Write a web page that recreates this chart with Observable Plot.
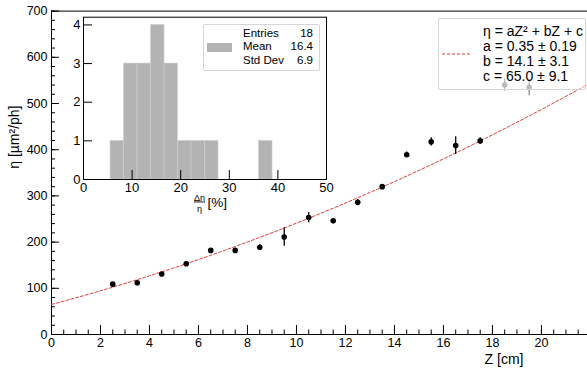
<!DOCTYPE html>
<html><head><meta charset="utf-8">
<script src="https://cdn.jsdelivr.net/npm/d3@7"></script>
<script src="https://cdn.jsdelivr.net/npm/@observablehq/plot@0.6"></script>
<style>
body{margin:0;background:#fff;overflow:hidden}
#wrap{position:relative;width:587px;height:371px;overflow:hidden;font-family:"Liberation Sans",Arial,Helvetica,sans-serif;color:#000}
#wrap svg{position:absolute;left:0;top:0;background:transparent}
.legend{position:absolute;box-sizing:border-box;border:1px solid #d6d6d6;border-radius:2px}
.legend div{position:absolute;white-space:nowrap}
</style></head><body><div id="wrap"></div>
<script>
// ---- main graph data ----
const zCenters = [2.5,3.5,4.5,5.5,6.5,7.5,8.5,9.5,10.5,11.5,12.5,13.5,14.5,15.5,16.5,17.5,18.5,19.5];
const etaValues = [109,112,131,153,182,182,189,211,253,246,286,320,389,417,409,419,540,535];
const etaErrors = [3,3,3,3,3,3,5,20,11,3,6,4,6,9,19,7,13,18];
const fitA = 0.35, fitB = 14.1, fitC = 65.0;
const xMajorTicks = [0,2,4,6,8,10,12,14,16,18,20];
const yMajorTicks = [0,100,200,300,400,500,600,700];
// ---- inset histogram data ----
const histEdgesLow  = [0,2.78,5.56,8.33,11.11,13.89,16.67,19.44,22.22,25,27.78,30.56,33.33,36.11,38.89,41.67,44.44,47.22];
const histEdgesHigh = [2.78,5.56,8.33,11.11,13.89,16.67,19.44,22.22,25,27.78,30.56,33.33,36.11,38.89,41.67,44.44,47.22,50];
const histCounts    = [0,0,1,3,3,4,3,1,1,1,0,0,0,1,0,0,0,0];
const insetXTicks = [0,10,20,30,40,50];
const insetYTicks = [0,1,2,3,4];
const statsLabels = ["Entries","Mean","Std Dev"];
const statsValues = ["18","16.4","6.9"];
const fitLines = ["η = aZ² + bZ + c","a = 0.35 ± 0.19","b = 14.1 ± 3.1","c = 65.0 ± 9.1"];

const FONT = '"Liberation Sans", Arial, Helvetica, sans-serif';
const points = zCenters.map((z,i)=>({z, eta: etaValues[i], err: etaErrors[i], grey: i>=16}));
const fitCurve = d3.range(0, 22.0001, 0.1).map(z=>({z, eta: fitA*z*z + fitB*z + fitC}));
const xMinor = d3.range(0, 22.0001, 0.5);
const yMinor = d3.range(0, 700.0001, 20);

const W=587, H=371, mL=51, mR=0, mT=10.6, mB=37;
const frameH = H - mT - mB;
const frameW = W - mL - mR;

const main = Plot.plot({
  width: W, height: H,
  marginLeft: mL, marginRight: mR, marginTop: mT, marginBottom: mB,
  style: {fontFamily: FONT, fontSize: "12.5px", background: "transparent", color: "#000"},
  x: {domain: [0, 21.88], ticks: xMajorTicks, tickSize: 0, tickPadding: 4, tickFormat: d=>String(d), label: null},
  y: {domain: [0, 700], ticks: yMajorTicks, tickSize: 0, tickPadding: 4, tickFormat: d=>String(d), label: null},
  marks: [
    Plot.tickX(xMinor, {x: d=>d, insetTop: frameH - 4.5, stroke: "#000"}),
    Plot.tickX(xMajorTicks, {x: d=>d, insetTop: frameH - 9, stroke: "#000"}),
    Plot.tickY(yMinor, {y: d=>d, insetRight: frameW - 4, stroke: "#000"}),
    Plot.tickY(yMajorTicks, {y: d=>d, insetRight: frameW - 8, stroke: "#000"}),
    Plot.ruleY([0], {stroke: "#000"}),
    Plot.ruleY([700], {stroke: "#000"}),
    Plot.ruleX([0], {stroke: "#000"}),
    Plot.line(fitCurve, {x: "z", y: "eta", stroke: "#e0393b", strokeWidth: 1, strokeDasharray: "3,2"}),
    Plot.ruleX(points.filter(d=>!d.grey), {x: "z", y1: d=>d.eta-d.err, y2: d=>d.eta+d.err, stroke: "#000", strokeWidth: 1.3}),
    Plot.dot(points.filter(d=>!d.grey), {x: "z", y: "eta", r: 2.8, fill: "#000", stroke: "none"}),
    Plot.ruleX(points.filter(d=>d.grey), {x: "z", y1: d=>d.eta-d.err, y2: d=>d.eta+d.err, stroke: "#8a8a8a", strokeWidth: 1.3}),
    Plot.dot(points.filter(d=>d.grey), {x: "z", y: "eta", r: 2.8, fill: "#8a8a8a", stroke: "none"}),
    Plot.text(["η [µm²/ph]"], {frameAnchor: "left", rotate: -90, dx: -37, dy: -4, fontSize: 14, fill: "#000"}),
    Plot.text(["Z [cm]"], {frameAnchor: "bottom-right", textAnchor: "end", dx: -64, dy: 29, fontSize: 14, fill: "#000"})
  ]
});

// inset
const iW=340, iH=222, iL=83, iR=14, iT=16.7, iB=43;
const iFrameH = iH - iT - iB, iFrameW = iW - iL - iR;
const bins = histCounts.map((c,i)=>({x1: histEdgesLow[i], x2: histEdgesHigh[i], c})).filter(d=>d.c>0);
const inset = Plot.plot({
  width: iW, height: iH,
  marginLeft: iL, marginRight: iR, marginTop: iT, marginBottom: iB,
  style: {fontFamily: FONT, fontSize: "13px", background: "transparent", color: "#000"},
  x: {domain: [0, 50], ticks: insetXTicks, tickSize: 0, tickPadding: 3, tickFormat: d=>String(d), label: null},
  y: {domain: [0, 4.2], ticks: insetYTicks, tickSize: 0, tickPadding: 3, tickFormat: d=>String(d), label: null},
  marks: [
    Plot.rectY(bins, {x1: "x1", x2: "x2", y: "c", fill: "#b3b3b3", stroke: "#cfcfcf", strokeWidth: 0.6}),
    Plot.tickX(insetXTicks, {x: d=>d, insetTop: iFrameH - 9, stroke: "#000"}),
    Plot.tickY(insetYTicks, {y: d=>d, insetRight: iFrameW - 9, stroke: "#000"}),
    Plot.frame({stroke: "#000"}),
    Plot.text(["Δη"], {frameAnchor: "bottom", dx: -5.5, dy: 21, fontSize: 9, fill: "#000"}),
    Plot.text(["η"], {frameAnchor: "bottom", dx: -5.5, dy: 32, fontSize: 9, fill: "#000"}),
    Plot.text(["[%]"], {frameAnchor: "bottom", textAnchor: "start", dx: 2.5, dy: 27, fontSize: 13.5, fill: "#000"})
  ]
});
d3.select(inset).selectAll("text").filter(function(){return this.textContent==="Δη";})
  .attr("text-decoration", "underline");

const wrap = document.getElementById("wrap");
wrap.appendChild(main);
wrap.appendChild(inset);

// stats box
const stats = document.createElement("div");
stats.className = "legend";
Object.assign(stats.style, {left:"203px", top:"24px", width:"117px", height:"47px", background:"#fff", fontSize:"11.5px"});
const sw = document.createElement("div");
Object.assign(sw.style, {left:"3px", top:"18px", width:"25px", height:"9px", background:"#b3b3b3"});
stats.appendChild(sw);
statsLabels.forEach((t,i)=>{
  const a = document.createElement("div");
  a.textContent = t;
  Object.assign(a.style, {left:"39px", top:(2+i*13.3)+"px", lineHeight:"13px"});
  stats.appendChild(a);
  const b = document.createElement("div");
  b.textContent = statsValues[i];
  Object.assign(b.style, {right:"6px", top:(2+i*13.3)+"px", lineHeight:"13px", textAlign:"right"});
  stats.appendChild(b);
});
wrap.appendChild(stats);

// fit legend
const fitLeg = document.createElement("div");
fitLeg.className = "legend";
Object.assign(fitLeg.style, {left:"438px", top:"18px", width:"148px", height:"72px", background:"rgba(255,255,255,0.4)", fontSize:"14px"});
const dashSvg = document.createElementNS("http://www.w3.org/2000/svg","svg");
dashSvg.setAttribute("width","32"); dashSvg.setAttribute("height","4");
Object.assign(dashSvg.style, {position:"absolute", left:"3px", top:"33px"});
const dl = document.createElementNS("http://www.w3.org/2000/svg","line");
dl.setAttribute("x1","0"); dl.setAttribute("x2","30"); dl.setAttribute("y1","2"); dl.setAttribute("y2","2");
dl.setAttribute("stroke","#e0393b"); dl.setAttribute("stroke-dasharray","3,2"); dl.setAttribute("stroke-width","1");
dashSvg.appendChild(dl);
fitLeg.appendChild(dashSvg);
fitLines.forEach((t,i)=>{
  const a = document.createElement("div");
  a.textContent = t;
  Object.assign(a.style, {left:"44px", top:(5+i*15)+"px", lineHeight:"15px"});
  fitLeg.appendChild(a);
});
wrap.appendChild(fitLeg);
</script></body></html>
